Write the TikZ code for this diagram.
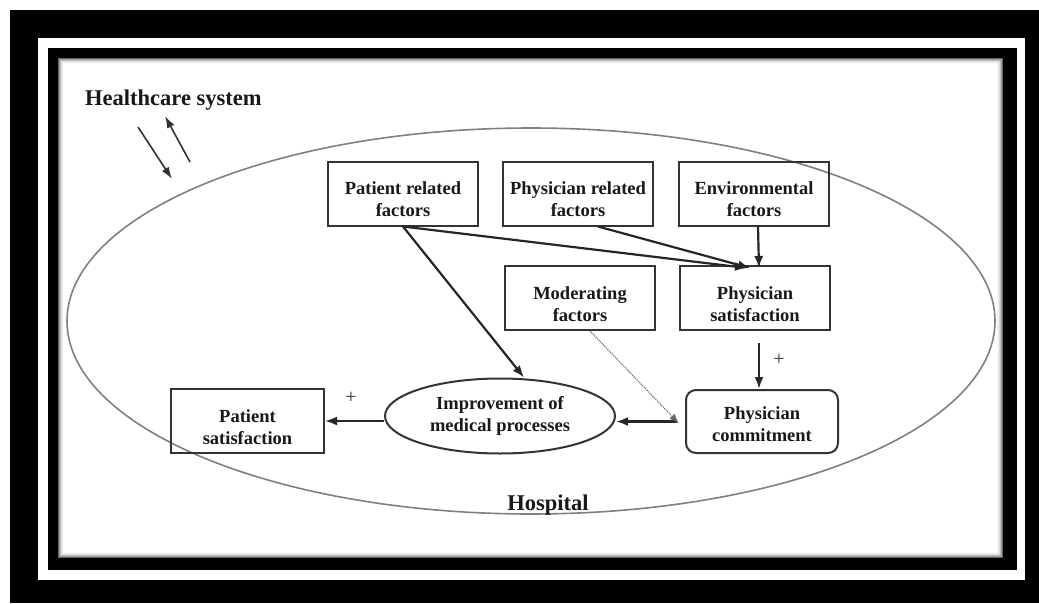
\documentclass[tikz,border=0pt]{standalone}
\usepackage{fontspec}
\setmainfont{Liberation Serif}
\usetikzlibrary{arrows.meta,shapes.geometric}
\begin{document}
\begin{tikzpicture}[x=1pt,y=-1pt,
  box/.style={draw=black!80, line width=2pt, minimum width=150pt, minimum height=64pt, inner sep=0pt},
  lbl/.style={font=\bfseries\fontsize{18.5}{22}\selectfont, align=center, text=black!90, inner sep=0pt},
  big/.style={font=\bfseries\fontsize{22.5}{26}\selectfont, text=black!90, inner sep=0pt},
  plus/.style={font=\fontsize{20}{22}\selectfont, text=black!80, inner sep=0pt},
  conn/.style={draw=black!85, line width=2.2pt, -{Latex[length=12pt,width=9pt]}},
  thin/.style={draw=black!80, line width=1.6pt, -{Latex[length=12pt,width=8pt]}},
]
\useasboundingbox (0,0) rectangle (1039,603);
% frame
\fill[white] (0,0) rectangle (1039,603);
\fill[black] (10,10) rectangle (1039,603);
\fill[white] (38,38) rectangle (1025,580);
\fill[black] (48,48) rectangle (1017,570);
\fill[white] (58,58) rectangle (1003,558);
\foreach \i/\c in {0.5/60, 1.5/40, 2.5/25, 3.5/14, 4.5/7, 5.5/3}
  \draw[black!\c, line width=1pt] (58+\i,58+\i) rectangle (1003-\i,558-\i);

% hospital ellipse
\draw[black!50, line width=1.6pt] (531,321) ellipse [x radius=464pt, y radius=193pt];

% labels
\node[big, anchor=base west] (hcs) at (85,105) {Healthcare system};
\node[big, anchor=base] (hosp) at (548,510) {Hospital};

% healthcare arrows
\coordinate (h1s) at (138,127);
\coordinate (h1e) at (172,179);
\coordinate (h2s) at (190,162);
\coordinate (h2e) at (165,116);
\draw[thin] (h1s) -- (h1e);
\draw[thin] (h2s) -- (h2e);

% boxes
\node[box] (prf) at (403,193.5) {};
\node[box] (phrf) at (578,193.5) {};
\node[box] (env) at (754,193.5) {};
\node[box] (mod) at (580,298) {};
\node[box] (psat) at (755,298) {};
\node[box, rounded corners=10pt, minimum width=152pt, minimum height=63pt] (pcom) at (762,421.5) {};
\node[box, minimum width=153pt] (patsat) at (247.5,421) {};
\node[draw=black!80, line width=2pt, ellipse, minimum width=230pt, minimum height=75pt, inner sep=0pt] (imp) at (500,416) {};

% texts
\node[lbl] (tprf) at ([yshift=-6pt]prf.center) {Patient related\\factors};
\node[lbl] (tphrf) at ([yshift=-6pt]phrf.center) {Physician related\\factors};
\node[lbl] (tenv) at ([yshift=-6pt]env.center) {Environmental\\factors};
\node[lbl] (tmod) at ([yshift=-6pt]mod.center) {Moderating\\factors};
\node[lbl] (tpsat) at ([yshift=-6pt]psat.center) {Physician\\satisfaction};
\node[lbl] (tpcom) at ([yshift=-3pt]pcom.center) {Physician\\commitment};
\node[lbl] (tpatsat) at ([yshift=-6pt]patsat.center) {Patient\\satisfaction};
\node[lbl] (timp) at (imp.center) {Improvement of\\medical processes};

% connectors
\draw[conn] (prf.south) -- ([xshift=-8pt,yshift=-3pt]psat.north);
\draw[conn] ([xshift=20pt]phrf.south) -- ([xshift=-5pt,yshift=-3pt]psat.north);
\draw[conn] ([xshift=4pt]env.south) -- ([xshift=4pt,yshift=-3pt]psat.north);
\draw[conn] (prf.south) -- ([xshift=24pt]imp.north);
\draw[conn, shorten <=12pt] ([xshift=4pt]psat.south) -- ([xshift=-3pt]pcom.north);
\draw[conn] ([xshift=-8pt]pcom.west) -- (pcom.west -| imp.east);
\draw[conn] (imp.west |- patsat.east) -- (patsat.east);
\draw[black!60, densely dotted, line width=1.1pt, -{Latex[length=10pt,width=7pt]}] ([xshift=10pt]mod.south) -- ([xshift=-6pt,yshift=-2pt]pcom.west);

% plus signs
\node[plus] (p1) at (779,360) {+};
\node[plus] (p2) at (351,398) {+};
\end{tikzpicture}
\end{document}
